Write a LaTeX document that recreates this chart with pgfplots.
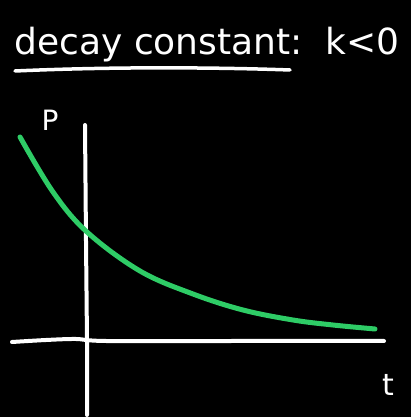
\documentclass[border=0pt]{standalone}
\usepackage{pgfplots}
\pgfplotsset{compat=1.18}
\usepackage{fontspec}
\setmainfont{DejaVu Sans}
\definecolor{curvegreen}{RGB}{46,204,102}
\begin{document}
\begin{tikzpicture}
\begin{axis}[
  scale only axis, width=411pt, height=417pt,
  xmin=-86, xmax=325, ymin=-76, ymax=341,
  hide axis, clip=false,
]
% black board
\fill[black] (axis cs:-86,-76) rectangle (axis cs:325,341);
% axes
\addplot[white, line width=4pt, line cap=round, smooth] coordinates {(-74,-1) (-40,1) (-10,2) (20,0) (150,0) (298,0)};
\addplot[white, line width=4pt, line cap=round] coordinates {(-1,216) (0,100) (1,0) (1,-74)};
% decay curve, k < 0
\addplot[curvegreen, line width=5pt, line cap=round, smooth, tension=0.6] coordinates {
  (-66,204) (-33,149) (1,109) (54,70) (107,47) (157,31) (207,21) (247,16) (289,12)};
% labels
\node[white, font=\fontsize{36}{36}\selectfont] at (axis cs:121,296) {decay constant:\ \ k<0};
\draw[white, line width=3.5pt, line cap=round] (axis cs:-71,270) .. controls (axis cs:40,275) and (axis cs:150,273) .. (axis cs:204,271);
\node[white, font=\fontsize{28}{28}\selectfont] at (axis cs:-36,221) {P};
\node[white, font=\fontsize{30}{30}\selectfont] at (axis cs:302,-44) {t};
\end{axis}
\end{tikzpicture}
\end{document}
